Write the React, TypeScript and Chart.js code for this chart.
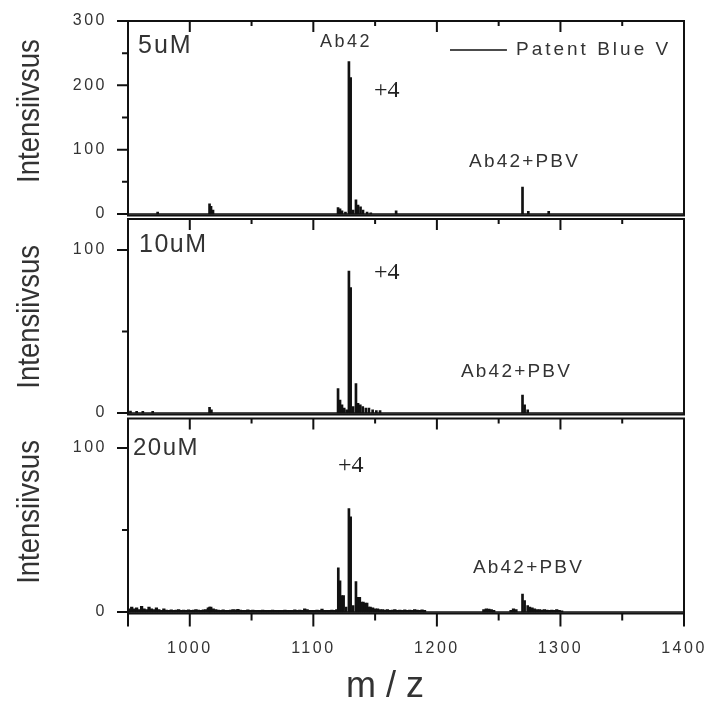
import React, { useEffect, useRef } from 'react';
import { Chart, registerables } from 'chart.js';

Chart.register(...registerables);

// ---------------- data ----------------
const xMin = 950;
const xMax = 1400;
const xTickValues = [950, 1000, 1050, 1100, 1150, 1200, 1250, 1300, 1350, 1400];
const xLabelValues = [1000, 1100, 1200, 1300, 1400];
const xTitle = 'm / z';
const yTitle = 'Intensiivsus';
const seriesName = 'Patent Blue V';
const concentrations = ['5uM', '10uM', '20uM'];
const peakLabel = 'Ab42';
const chargeLabel = '+4';
const adductLabel = 'Ab42+PBV';

// 5 uM
const mz5 = [974, 1016, 1017.2, 1018.8, 1120, 1121.6, 1123.2, 1126, 1128.8, 1130.2, 1132.2, 1134.5, 1136.2, 1138.2, 1140.2, 1143.5, 1146.5, 1167, 1269.3, 1274, 1290.5];
const int5 = [3, 16, 12, 6, 10, 8, 5, 3, 237, 212, 6, 22, 14, 11, 6, 3, 2, 5, 42, 4, 4];
const yTicks5 = [0, 50, 100, 150, 200, 250, 300];

// 10 uM
const mz10 = [952, 957, 962, 970, 1016, 1017.5, 1120, 1121.6, 1123.2, 1125, 1127, 1128.8, 1130.2, 1132.2, 1134.5, 1136.2, 1138, 1140, 1142.5, 1145, 1148, 1151, 1154, 1269.3, 1271, 1273.5];
const int10 = [1.2, 1, 1, 1, 3.5, 2, 15, 8, 5, 3, 2, 87, 77, 4, 18, 6, 5, 4, 3, 3, 2, 1.5, 1.5, 11, 5, 2];
const yTicks10 = [0, 50, 100];

// 20 uM
const mz20 = [1016, 1120.2, 1121.6, 1123, 1124.5, 1126.5, 1128.8, 1130.2, 1132.2, 1134.5, 1136, 1137.6, 1139, 1140.5, 1142, 1143.5, 1145, 1269.3, 1271, 1273.5];
const int20 = [3, 27, 19, 10, 10, 3, 63, 58, 4, 18.5, 9, 9, 6, 6, 5.5, 5.5, 3, 11, 7, 4];
const yTicks20 = [0, 50, 100];
// baseline noise of the 20 uM spectrum, sampled every 2 m/z from the given start
const noiseStartA20 = 951;
const noiseIntA20 = [
  2, 3, 2, 2.5, 1.5, 3.5, 2, 1.5, 3, 2, 1.5, 2.5, 1.5, 1, 2,
  1.2, 1, 1.3, 1, 1.2, 1.5, 1, 1.2, 1, 1.3, 1, 1.2, 1.5, 1.2, 1, 1.4, 1.5, 2.5, 3, 2,
  1.5, 1.2, 1, 1.3, 1.1, 1, 1.2, 1.5, 1.3, 1.6, 1.2, 1, 1.1, 1.3, 1, 1.2, 1, 1.1, 1, 1.2,
  1, 1.1, 1, 1.2, 1, 1.1, 1, 1, 1.2, 1, 1.1, 1, 1.3, 1, 1.2, 1, 2, 1.5, 1, 1.1,
  1, 1.2, 1, 1.8, 1, 1.1, 1, 1.2, 1, 1.5,
];
const noiseStartB20 = 1146;
const noiseIntB20 = [3, 2.5, 2, 2, 1.5, 1.5, 1.2, 1.5, 1, 1.2, 1.5, 1, 1.2, 1, 1.3, 1, 1.2, 1, 1.5, 1.2, 1, 1.3, 1];
const noiseStartC20 = 1238;
const noiseIntC20 = [1.5, 2, 1.8, 1.5, 1];
const noiseStartD20 = 1260;
const noiseIntD20 = [1, 2, 1.5];
const noiseStartE20 = 1275;
const noiseIntE20 = [3, 2.5, 2, 1.5, 1.5, 1.2, 1.5, 1.2, 1, 1.2, 1, 1.5, 1, 0.8];
const noiseStep20 = 2;

// ---------------- styles ----------------
const W = 710;
const H = 704;
const SANS = '"Liberation Sans", Arial, Helvetica, sans-serif';
const SERIF = '"Liberation Serif", "Times New Roman", Times, serif';
const INK = '#111';
const TEXT = '#333';
const PLOT_LEFT = 128;
const PLOT_RIGHT = 684;

type Pt = { x: number; y: number };
const pairs = (xs: number[], ys: number[]): Pt[] => xs.map((x, i) => ({ x, y: ys[i] }));
const onGrid = (start: number, step: number, ys: number[]): Pt[] => ys.map((y, i) => ({ x: start + i * step, y }));

type Note = { text: string; x: number; y: number; font: string; spacing: number; color: string };
type Panel = {
  peaks: Pt[];
  noise: Pt[];
  yMin: number;
  yMax: number;
  yTicks: number[];
  top: number;
  bottom: number;
  showX: boolean;
  titleV: number;
  notes: Note[];
  legend: boolean;
};

const panels: Panel[] = [
  {
    peaks: pairs(mz5, int5),
    noise: [],
    yMin: -2.3, yMax: 300, yTicks: yTicks5,
    top: 21, bottom: 215.5, showX: false, titleV: 160, legend: true,
    notes: [
      { text: concentrations[0], x: 958.1, y: 250.4, font: `25px ${SANS}`, spacing: 2, color: TEXT },
      { text: peakLabel, x: 1105.4, y: 259.7, font: `18px ${SANS}`, spacing: 2.5, color: TEXT },
      { text: chargeLabel, x: 1149.1, y: 182, font: `24px ${SERIF}`, spacing: 0, color: '#222' },
      { text: adductLabel, x: 1226, y: 73, font: `19px ${SANS}`, spacing: 2.2, color: TEXT },
    ],
  },
  {
    peaks: pairs(mz10, int10),
    noise: [],
    yMin: -0.9, yMax: 119, yTicks: yTicks10,
    top: 219, bottom: 414.5, showX: false, titleV: 59, legend: false,
    notes: [
      { text: concentrations[1], x: 958.9, y: 98.8, font: `25px ${SANS}`, spacing: 1.5, color: TEXT },
      { text: chargeLabel, x: 1149.1, y: 82.2, font: `24px ${SERIF}`, spacing: 0, color: '#222' },
      { text: adductLabel, x: 1219.5, y: 22.1, font: `19px ${SANS}`, spacing: 2.2, color: TEXT },
    ],
  },
  {
    peaks: pairs(mz20, int20),
    noise: [
      ...onGrid(noiseStartA20, noiseStep20, noiseIntA20),
      ...onGrid(noiseStartB20, noiseStep20, noiseIntB20),
      ...onGrid(noiseStartC20, noiseStep20, noiseIntC20),
      ...onGrid(noiseStartD20, noiseStep20, noiseIntD20),
      ...onGrid(noiseStartE20, noiseStep20, noiseIntE20),
    ],
    yMin: -0.9, yMax: 118, yTicks: yTicks20,
    top: 418.5, bottom: 613.5, showX: true, titleV: 61, legend: false,
    notes: [
      { text: concentrations[2], x: 954, y: 95.7, font: `24px ${SANS}`, spacing: 1.5, color: TEXT },
      { text: chargeLabel, x: 1120, y: 85.4, font: `24px ${SERIF}`, spacing: 0, color: '#222' },
      { text: adductLabel, x: 1229.2, y: 23.8, font: `19px ${SANS}`, spacing: 2.2, color: TEXT },
    ],
  },
];

type TextOpts = {
  font: string; color?: string; spacing?: number; align?: CanvasTextAlign;
  baseline?: CanvasTextBaseline; sx?: number; sy?: number; rot?: number;
};
function drawText(ctx: CanvasRenderingContext2D, s: string, x: number, y: number, o: TextOpts) {
  ctx.save();
  ctx.translate(x, y);
  if (o.rot) ctx.rotate(o.rot);
  ctx.scale(o.sx ?? 1, o.sy ?? 1);
  ctx.font = o.font;
  ctx.fillStyle = o.color ?? TEXT;
  (ctx as any).letterSpacing = `${o.spacing ?? 0}px`;
  ctx.textAlign = o.align ?? 'left';
  ctx.textBaseline = o.baseline ?? 'alphabetic';
  ctx.fillText(s, 0, 0);
  ctx.restore();
}

function makeDecor(p: Panel) {
  return {
    id: 'decor',
    beforeDraw(chart: any) {
      chart.ctx.letterSpacing = '2.5px';
    },
    beforeDatasetsDraw(chart: any) {
      const { ctx, chartArea: a, scales } = chart;
      const y0 = scales.y.getPixelForValue(0);
      ctx.save();
      ctx.strokeStyle = INK;
      ctx.lineWidth = 1.6;
      ctx.beginPath();
      ctx.moveTo(a.left, y0);
      ctx.lineTo(a.right, y0);
      ctx.stroke();
      ctx.restore();
    },
    afterDraw(chart: any) {
      const { ctx, chartArea: a, scales } = chart;
      const x = scales.x;
      const y = scales.y;
      ctx.save();
      ctx.strokeStyle = INK;
      ctx.lineWidth = 2;
      ctx.strokeRect(a.left, a.top, a.right - a.left, a.bottom - a.top);
      ctx.beginPath();
      for (const v of p.yTicks) {
        const py = y.getPixelForValue(v);
        const len = v % 100 === 0 ? 11 : 6;
        ctx.moveTo(a.left - len, py);
        ctx.lineTo(a.left, py);
      }
      for (const v of xTickValues) {
        if (v === xMin || v === xMax) continue;
        const px = x.getPixelForValue(v);
        const len = v % 100 === 0 ? 11 : 5;
        ctx.moveTo(px, a.top);
        ctx.lineTo(px, a.top + len);
      }
      if (p.showX) {
        for (const v of xTickValues) {
          const px = x.getPixelForValue(v);
          const len = v % 100 === 0 || v === xMin ? 13 : 7;
          ctx.moveTo(px, a.bottom);
          ctx.lineTo(px, a.bottom + len);
        }
      }
      ctx.stroke();

      // y title
      drawText(ctx, yTitle, 30, y.getPixelForValue(p.titleV), {
        font: `32px ${SANS}`, align: 'center', baseline: 'middle', rot: -Math.PI / 2, sx: 0.86, color: TEXT,
      });

      // notes
      for (const n of p.notes) {
        drawText(ctx, n.text, x.getPixelForValue(n.x), y.getPixelForValue(n.y), {
          font: n.font, spacing: n.spacing, color: n.color,
        });
      }

      if (p.legend) {
        const ly = y.getPixelForValue(255);
        ctx.lineWidth = 1.6;
        ctx.beginPath();
        ctx.moveTo(x.getPixelForValue(1210.6), ly);
        ctx.lineTo(x.getPixelForValue(1256.7), ly);
        ctx.stroke();
        drawText(ctx, chart.data.datasets[0].label, x.getPixelForValue(1264), ly, {
          font: `19px ${SANS}`, spacing: 3, baseline: 'middle', color: TEXT,
        });
      }

      if (p.showX) {
        drawText(ctx, xTitle, x.getPixelForValue(1158), a.bottom + 83, {
          font: `36px ${SANS}`, align: 'center', color: TEXT,
        });
      }
      ctx.restore();
    },
  };
}

function makeChart(canvas: HTMLCanvasElement, p: Panel) {
  const barStyle = {
    type: 'bar' as const,
    backgroundColor: INK,
    borderWidth: 0,
    barThickness: 2,
    grouped: false,
  };
  const datasets: any[] = [{ ...barStyle, label: seriesName, data: p.peaks }];
  if (p.noise.length) datasets.push({ ...barStyle, label: seriesName + ' noise', data: p.noise, barThickness: 2.6 });
  return new Chart(canvas, {
    type: 'bar',
    data: { datasets },
    options: {
      animation: false,
      responsive: false,
      maintainAspectRatio: false,
      events: [],
      layout: {
        padding: { left: 0, right: W - PLOT_RIGHT, top: p.top, bottom: p.showX ? 0 : H - p.bottom },
      },
      plugins: { legend: { display: false }, tooltip: { enabled: false }, title: { display: false } },
      scales: {
        x: {
          type: 'linear',
          min: xMin,
          max: xMax,
          display: p.showX,
          offset: false,
          grid: { display: false, drawTicks: false },
          border: { display: false },
          afterBuildTicks: (ax: any) => { ax.ticks = xTickValues.map((v) => ({ value: v })); },
          afterFit: (ax: any) => {
            if (p.showX) ax.height = H - p.bottom;
            ax.paddingLeft = 0;
            ax.paddingRight = 0;
          },
          ticks: {
            autoSkip: false,
            maxRotation: 0,
            padding: 25,
            color: TEXT,
            font: { family: SANS, size: 16 },
            callback: (v: any) => (xLabelValues.includes(Number(v)) ? String(v) : ''),
          },
        },
        y: {
          type: 'linear',
          min: p.yMin,
          max: p.yMax,
          grid: { display: false, drawTicks: false },
          border: { display: false },
          afterBuildTicks: (ax: any) => { ax.ticks = p.yTicks.map((v) => ({ value: v })); },
          afterFit: (ax: any) => {
            ax.width = PLOT_LEFT;
            ax.paddingTop = 0;
            ax.paddingBottom = 0;
          },
          ticks: {
            autoSkip: false,
            padding: 21,
            color: TEXT,
            font: { family: SANS, size: 16 },
            callback: (v: any) => (Number(v) % 100 === 0 ? String(v) : ''),
          },
        },
      },
    } as any,
    plugins: [makeDecor(p) as any],
  });
}

export default function App() {
  const r0 = useRef<HTMLCanvasElement>(null);
  const r1 = useRef<HTMLCanvasElement>(null);
  const r2 = useRef<HTMLCanvasElement>(null);
  const refs = [r0, r1, r2];
  useEffect(() => {
    document.body.style.margin = '0';
    document.body.style.overflow = 'hidden';
    const charts = panels.map((p, i) => makeChart(refs[i].current as HTMLCanvasElement, p));
    return () => charts.forEach((c) => c.destroy());
  }, []);
  return (
    <div style={{ position: 'relative', width: W, height: H, background: '#fff' }}>
      {panels.map((_, i) => (
        <canvas key={i} ref={refs[i]} width={W} height={H} style={{ position: 'absolute', left: 0, top: 0 }} />
      ))}
    </div>
  );
}
